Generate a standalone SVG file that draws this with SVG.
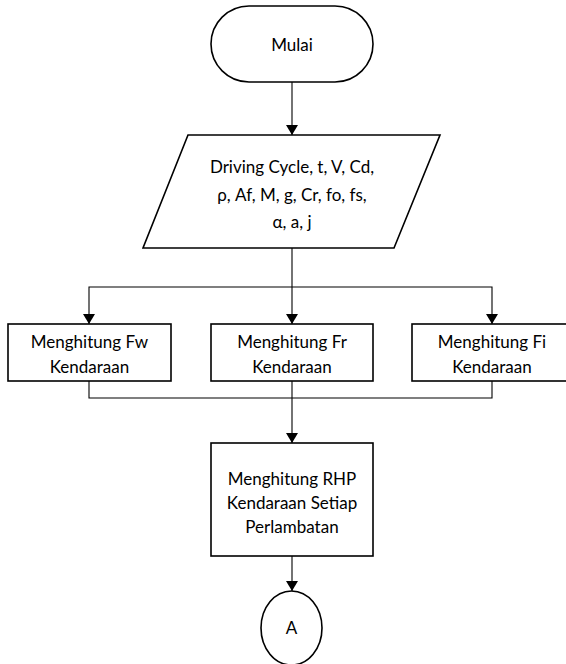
<svg xmlns="http://www.w3.org/2000/svg" width="566" height="664" viewBox="0 0 566 664">
  <style>
    .shape { fill: #ffffff; stroke: #000000; stroke-width: 1.6; }
    .conn { fill: none; stroke: #000000; stroke-width: 1.1; }
    .lbl { font-family: "Lato", "Liberation Sans", sans-serif; font-size: 17px; fill: #000000; text-anchor: middle; }
  </style>
  <defs>
    <marker id="arrow" viewBox="0 0 10 12" refX="10" refY="6" markerWidth="10" markerHeight="12" markerUnits="userSpaceOnUse" orient="auto">
      <path d="M0,0 L10,6 L0,12 Z" fill="#000000"/>
    </marker>
  </defs>

  <rect width="566" height="664" fill="#ffffff"/>

  <!-- connectors -->
  <g id="connectors">
    <line class="conn" x1="292" y1="82" x2="292" y2="135" marker-end="url(#arrow)"/>
    <line class="conn" x1="292" y1="248" x2="292" y2="324" marker-end="url(#arrow)"/>
    <polyline class="conn" points="292,287 89,287 89,324" marker-end="url(#arrow)"/>
    <polyline class="conn" points="292,287 492,287 492,324" marker-end="url(#arrow)"/>
    <polyline class="conn" points="89,381 89,398 492,398 492,381"/>
    <line class="conn" x1="292" y1="381" x2="292" y2="443" marker-end="url(#arrow)"/>
    <line class="conn" x1="292" y1="556" x2="292" y2="591" marker-end="url(#arrow)"/>
  </g>

  <!-- start terminator -->
  <g id="start">
    <rect class="shape" x="211" y="6" width="162" height="76" rx="38" ry="38"/>
    <text class="lbl" x="292" y="51">Mulai</text>
  </g>

  <!-- input data -->
  <g id="input">
    <polygon class="shape" points="188,135 440,135 394,248 143,248"/>
    <text class="lbl" x="292" y="173">Driving Cycle, t, V, Cd,</text>
    <text class="lbl" x="292" y="201">ρ, Af, M, g, Cr, fo, fs,</text>
    <text class="lbl" x="292" y="228">α, a, j</text>
  </g>

  <!-- force calculations -->
  <g id="fw">
    <rect class="shape" x="8" y="324" width="163" height="57"/>
    <text class="lbl" x="89.5" y="348">Menghitung Fw</text>
    <text class="lbl" x="89.5" y="373">Kendaraan</text>
  </g>
  <g id="fr">
    <rect class="shape" x="211" y="324" width="162" height="57"/>
    <text class="lbl" x="292" y="348">Menghitung Fr</text>
    <text class="lbl" x="292" y="373">Kendaraan</text>
  </g>
  <g id="fi">
    <rect class="shape" x="412" y="324" width="162" height="57"/>
    <text class="lbl" x="492" y="348">Menghitung Fi</text>
    <text class="lbl" x="492" y="373">Kendaraan</text>
  </g>

  <!-- road horse power -->
  <g id="rhp">
    <rect class="shape" x="211" y="443" width="162" height="113"/>
    <text class="lbl" x="292" y="485">Menghitung RHP</text>
    <text class="lbl" x="292" y="509">Kendaraan Setiap</text>
    <text class="lbl" x="292" y="533">Perlambatan</text>
  </g>

  <!-- off-page connector -->
  <g id="connector-a">
    <ellipse class="shape" cx="291.5" cy="628" rx="30.5" ry="37"/>
    <text class="lbl" x="291.5" y="634">A</text>
  </g>
</svg>
